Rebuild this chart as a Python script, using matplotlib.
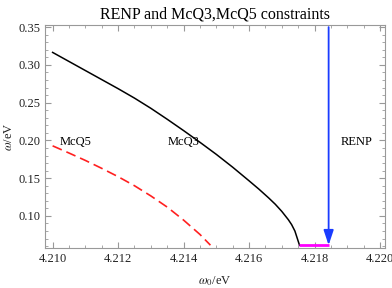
import matplotlib
matplotlib.use('Agg')
import matplotlib.pyplot as plt
from matplotlib.ticker import MultipleLocator

# values
mcq3_x = [4.2100, 4.2105, 4.2110, 4.2115, 4.2120, 4.2125, 4.2130, 4.2135, 4.2140,
          4.2145, 4.2150, 4.2155, 4.2160, 4.2163, 4.2166, 4.2168, 4.2170, 4.2172,
          4.2173, 4.2174, 4.21754]
mcq3_y = [0.3165, 0.3045, 0.2925, 0.2805, 0.2685, 0.2560, 0.2425, 0.2280, 0.2130,
          0.1975, 0.1815, 0.1645, 0.1465, 0.1355, 0.1238, 0.1155, 0.1060, 0.0950,
          0.0885, 0.0800, 0.0613]
mcq5_x = [4.2100, 4.2105, 4.2110, 4.2115, 4.2120, 4.2125, 4.2130, 4.2135, 4.2140,
          4.2145, 4.21482]
mcq5_y = [0.1928, 0.1833, 0.1735, 0.1630, 0.1520, 0.1400, 0.1265, 0.1117, 0.0945,
          0.0755, 0.0613]
renp_x = [4.21754, 4.21843]
renp_y = [0.0613, 0.0613]
arrow_x = 4.21843
arrow_top, arrow_bottom = 0.35, 0.0613

labels = {'McQ5': (4.21022, 0.198), 'McQ3': (4.21352, 0.198), 'RENP': (4.21881, 0.198)}

plt.rcParams['font.family'] = ['Liberation Serif', 'DejaVu Serif']
plt.rcParams['mathtext.fontset'] = 'stix'

fig = plt.figure(figsize=(3.92, 2.88), dpi=100)
ax = fig.add_axes([0.115, 0.139, 0.867, 0.774])

ax.plot(mcq3_x, mcq3_y, color='black', lw=1.1)
ax.plot(mcq5_x, mcq5_y, color='#ff2020', lw=1.2, dashes=(6, 3))
ax.plot(renp_x, renp_y, color='#ff00ff', lw=2.0, solid_capstyle='butt')
ax.annotate('', xy=(arrow_x, arrow_bottom), xytext=(arrow_x, arrow_top),
            arrowprops=dict(arrowstyle='-|>,head_length=0.9,head_width=0.3',
                            color='#1a3cff', lw=1.3, shrinkA=0, shrinkB=0))

for txt, (x, y) in labels.items():
    ax.text(x, y, txt, fontsize=9, ha='left', va='center')

ax.set_xlim(4.20977, 4.22015)
ax.set_ylim(0.0576, 0.3527)
ax.xaxis.set_major_locator(MultipleLocator(0.002))
ax.xaxis.set_minor_locator(MultipleLocator(0.0005))
ax.yaxis.set_major_locator(MultipleLocator(0.05))
ax.yaxis.set_minor_locator(MultipleLocator(0.01))
ax.xaxis.set_major_formatter(plt.FuncFormatter(lambda v, p: '%.3f' % v))
ax.yaxis.set_major_formatter(plt.FuncFormatter(lambda v, p: '%.2f' % v))

ax.tick_params(which='both', direction='in', top=True, right=True,
               color='#999999', labelsize=9, labelcolor='#222222')
ax.tick_params(which='major', length=4, width=0.8)
ax.tick_params(which='minor', length=2, width=0.6)
for s in ax.spines.values():
    s.set_color('#999999')
    s.set_linewidth(0.8)

ax.set_xlabel(r'$\omega_0$/eV', fontsize=9, color='#222222', va='center')
ax.set_ylabel(r'$\omega$/eV', fontsize=9, color='#222222', va='center')
ax.xaxis.set_label_coords(0.5, -0.148)
ax.yaxis.set_label_coords(-0.106, 0.5)
ax.set_title('RENP and McQ3,McQ5 constraints', fontsize=11.5, pad=5)

fig.savefig('out.png', dpi=100)
